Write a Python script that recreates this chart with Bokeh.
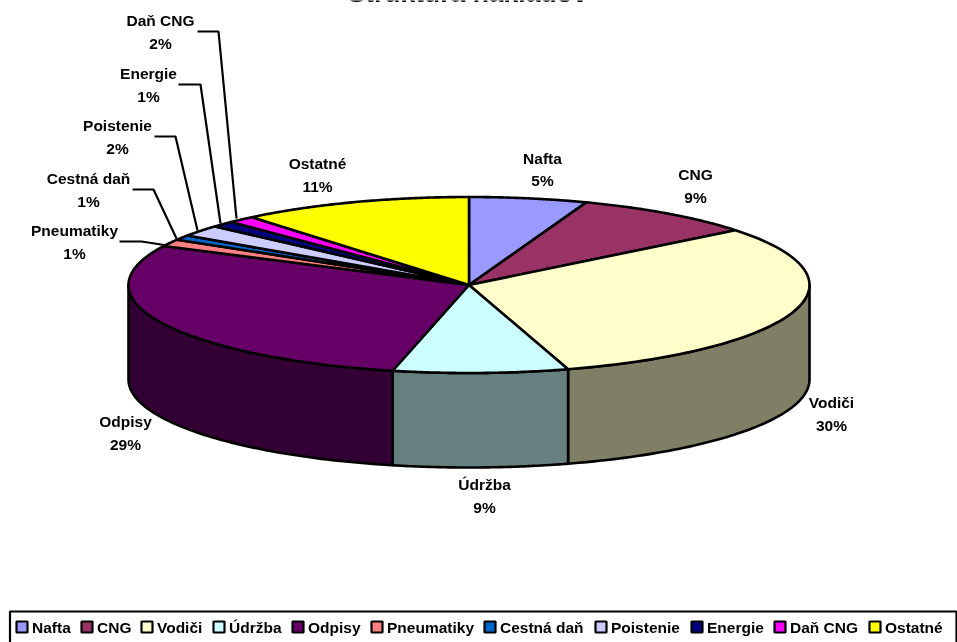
import numpy as np
from bokeh.plotting import figure
from bokeh.models import Range1d
from bokeh.core.properties import value
from bokeh.embed import file_html
from bokeh.resources import INLINE

title = "Štruktúra nákladov"
categories = ["Nafta", "CNG", "Vodiči", "Údržba", "Odpisy", "Pneumatiky",
              "Cestná daň", "Poistenie", "Energie", "Daň CNG", "Ostatné"]
shares = [5.6, 8.7, 31.0, 8.3, 28.7, 1.3, 0.9, 2.1, 1.1, 1.3, 11.0]
percent_labels = ["5%", "9%", "30%", "9%", "29%", "1%", "1%", "2%", "1%", "2%", "11%"]
colors = ["#9999FF", "#993366", "#FFFFCC", "#CCFFFF", "#660066", "#FF8080",
          "#0066CC", "#CCCCFF", "#000080", "#FF00FF", "#FFFF00"]

# layout (page pixels)
W, H = 957, 642
CX, CY, RX, RY, DEPTH = 468.5, 284.5, 340.5, 88.0, 94.5
FONT = value("Liberation Sans")
label_x = [542, 695, 831, 484, 125, 74, 88, 117, 148, 160, 317]
label_y = [157.5, 174, 402, 484, 421, 230, 178, 125, 73, 20, 163]
LINE_GAP = 22.5
leader_lines = {
    5: ([119, 141, 167], [241, 241, 245]),
    6: ([132, 153, 176], [189, 189, 238]),
    7: ([154, 175, 197], [136, 136, 230]),
    8: ([178, 200, 220], [84, 84, 223]),
    9: ([197, 218, 236], [31, 31, 218]),
}
legend_swatch_x = [16, 81, 141, 213, 292, 371, 484, 595, 691, 774, 869]
LEG_TOP, LEG_LEFT, LEG_RIGHT = 611, 9.5, 956
LEG_SW, LEG_Y = 11, 626.5

p = figure(width=W, height=H, output_backend="svg", toolbar_location=None,
           x_range=Range1d(0, W), y_range=Range1d(H, 0), min_border=0,
           x_axis_location=None, y_axis_location=None,
           styles={"position": "fixed", "left": "0px", "top": "0px"})
p.grid.visible = False
p.outline_line_color = None
p.background_fill_color = "white"
p.border_fill_color = "white"


def arc(a0, a1, n=80):
    t = np.radians(np.linspace(a0, a1, n))
    return CX + RX * np.sin(t), CY - RY * np.cos(t)


def darken(c):
    return "#%02X%02X%02X" % tuple(int(c[i:i + 2], 16) // 2 for i in (1, 3, 5))


edges = np.concatenate([[0], np.cumsum(shares)]) / np.sum(shares) * 360

# outer wall of the slices on the front half
for i, col in enumerate(colors):
    a0, a1 = max(edges[i], 90), min(edges[i + 1], 270)
    if a1 <= a0:
        continue
    x, y = arc(a0, a1)
    p.patch(np.r_[x, x[::-1]], np.r_[y, y[::-1] + DEPTH], fill_color=darken(col),
            line_color="black", line_width=2.6, line_join="round")

# top face
for i, col in enumerate(colors):
    x, y = arc(edges[i], edges[i + 1])
    p.patch(np.r_[CX, x], np.r_[CY, y], fill_color=col, line_color="black",
            line_width=2.6, line_join="round")

# leader lines
for i, (lx, ly) in leader_lines.items():
    p.line(lx, ly, line_color="black", line_width=2.2)

# slice labels
tx = label_x + label_x
ty = label_y + [v + LINE_GAP for v in label_y]
p.text(tx, ty, text=categories + percent_labels, text_font=FONT, text_font_style="bold",
       text_font_size="15.5px", text_align="center", text_baseline="middle", text_color="black")

# title
p.text([467], [-8], text=[title], text_font=FONT, text_font_style="bold",
       text_font_size="26.5px", text_align="center", text_baseline="middle", text_color="black")

# legend
p.patch([LEG_LEFT, LEG_RIGHT, LEG_RIGHT, LEG_LEFT], [LEG_TOP, LEG_TOP, H + 10, H + 10],
        fill_color="white", line_color="black", line_width=2.2)
sx = np.array(legend_swatch_x, dtype=float)
p.quad(left=sx, right=sx + LEG_SW, top=LEG_Y - LEG_SW / 2, bottom=LEG_Y + LEG_SW / 2,
       fill_color=colors, line_color="black", line_width=2.2)
p.text(sx + LEG_SW + 4.5, [LEG_Y] * len(sx), text=categories, text_font=FONT, text_font_style="bold",
       text_font_size="15.5px", text_align="left", text_baseline="middle", text_color="black")

open("out.html", "w").write(file_html(p, INLINE))
